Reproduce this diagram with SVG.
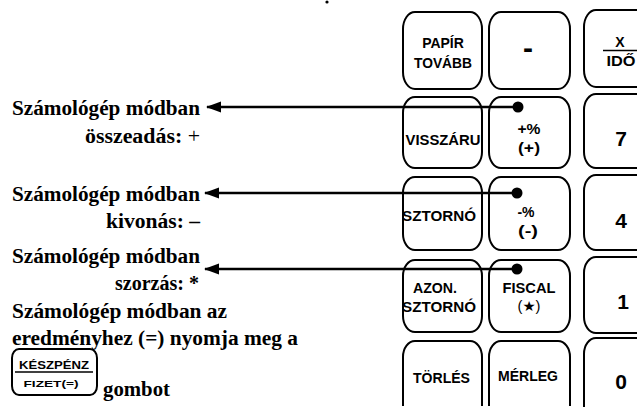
<svg xmlns="http://www.w3.org/2000/svg" width="637" height="410" viewBox="0 0 637 410">
<style>
.key{fill:#fff;stroke:#000;stroke-width:2}
.kt{font-family:"Liberation Sans",Arial,"DejaVu Sans",sans-serif;font-weight:bold;font-size:14px;text-anchor:middle;fill:#000}
.num{font-size:21px}
.lt{font-family:"Liberation Serif","Times New Roman",serif;font-weight:bold;font-size:20px;fill:#000}
.conn{stroke:#000;stroke-width:2.5;fill:none}
</style>
<defs>
<marker id="ah" markerUnits="userSpaceOnUse" markerWidth="16" markerHeight="12" refX="1" refY="6" orient="auto">
<path d="M0,6 L15,0.5 L15,11.5 Z" fill="#000"/>
</marker>
</defs>
<rect width="637" height="410" fill="#fff"/>
<circle cx="327" cy="2" r="1.6" fill="#000"/>

<!-- left texts -->
<g id="labels">
<text class="lt" x="12" y="115" textLength="188" lengthAdjust="spacingAndGlyphs">Számológép módban</text>
<text class="lt" x="85" y="143" textLength="115" lengthAdjust="spacingAndGlyphs">összeadás: <tspan font-weight="normal">+</tspan></text>
<text class="lt" x="12" y="201" textLength="188" lengthAdjust="spacingAndGlyphs">Számológép módban</text>
<text class="lt" x="106" y="228" textLength="94" lengthAdjust="spacingAndGlyphs">kivonás: –</text>
<text class="lt" x="12" y="263" textLength="188" lengthAdjust="spacingAndGlyphs">Számológép módban</text>
<text class="lt" x="115" y="290" textLength="84" lengthAdjust="spacingAndGlyphs">szorzás: *</text>
<text class="lt" x="12" y="318" textLength="215" lengthAdjust="spacingAndGlyphs">Számológép módban az</text>
<text class="lt" x="12" y="345" textLength="286" lengthAdjust="spacingAndGlyphs">eredményhez (=) nyomja meg a</text>
<text class="lt" x="103" y="396" textLength="67" lengthAdjust="spacingAndGlyphs">gombot</text>
</g>
<g id="key-keszpenz">
<rect class="key" x="12" y="349" width="85" height="46" rx="7" ry="9"/>
<text class="kt" x="54" y="369" style="font-size:10px" textLength="70" lengthAdjust="spacingAndGlyphs">KÉSZPÉNZ</text>
<line x1="15" y1="372" x2="93" y2="372" stroke="#000" stroke-width="1.5"/>
<text class="kt" x="51" y="387" style="font-size:9.5px" textLength="55" lengthAdjust="spacingAndGlyphs">FIZET(=)</text>
</g>

<!-- keypad: row 1 -->
<g id="key-papir">
<rect class="key" x="403" y="12" width="79" height="77" rx="12" ry="17"/>
<text class="kt" x="443" y="48">PAPÍR</text>
<text class="kt" x="443" y="68" textLength="58" lengthAdjust="spacingAndGlyphs">TOVÁBB</text>
</g>
<g id="key-minus">
<rect class="key" x="489" y="12" width="81" height="77" rx="12" ry="17"/>
<text class="kt" x="528" y="58" style="font-size:30px">-</text>
</g>
<g id="key-x-ido">
<rect class="key" x="584" y="10" width="80" height="77" rx="12" ry="17"/>
<text class="kt" x="620" y="47">X</text>
<line x1="603" y1="50.5" x2="637" y2="50.5" stroke="#000" stroke-width="1.5"/>
<text class="kt" x="621" y="66" textLength="29" lengthAdjust="spacingAndGlyphs">IDŐ</text>
</g>

<!-- row 2 -->
<g id="key-visszaru">
<rect class="key" x="403" y="97" width="79" height="71" rx="12" ry="16"/>
<text class="kt" x="443" y="145" textLength="75" lengthAdjust="spacingAndGlyphs">VISSZÁRU</text>
</g>
<g id="key-plus-percent">
<rect class="key" x="489" y="97" width="81" height="71" rx="12" ry="16"/>
<text class="kt" x="529" y="134" style="font-size:14px" textLength="23" lengthAdjust="spacingAndGlyphs">+%</text>
<text class="kt" x="529" y="153" style="font-size:14px" textLength="22" lengthAdjust="spacingAndGlyphs">(+)</text>
</g>
<g id="key-7">
<rect class="key" x="584" y="94" width="80" height="74" rx="12" ry="16"/>
<text class="kt num" x="621" y="146">7</text>
</g>

<!-- row 3 -->
<g id="key-sztorno">
<rect class="key" x="403" y="177" width="79" height="73" rx="12" ry="16"/>
<text class="kt" x="439" y="221" textLength="74" lengthAdjust="spacingAndGlyphs">SZTORNÓ</text>
</g>
<g id="key-minus-percent">
<rect class="key" x="489" y="177" width="81" height="73" rx="12" ry="16"/>
<text class="kt" x="526" y="217" style="font-size:14px">-%</text>
<text class="kt" x="528" y="236" style="font-size:14px" textLength="20" lengthAdjust="spacingAndGlyphs">(-)</text>
</g>
<g id="key-4">
<rect class="key" x="584" y="175" width="80" height="75" rx="12" ry="16"/>
<text class="kt num" x="621" y="228">4</text>
</g>

<!-- row 4 -->
<g id="key-azon-sztorno">
<rect class="key" x="403" y="260" width="79" height="72" rx="12" ry="16"/>
<text class="kt" x="435" y="293" textLength="44" lengthAdjust="spacingAndGlyphs">AZON.</text>
<text class="kt" x="439" y="312" textLength="74" lengthAdjust="spacingAndGlyphs">SZTORNÓ</text>
</g>
<g id="key-fiscal">
<rect class="key" x="489" y="260" width="81" height="72" rx="12" ry="16"/>
<text class="kt" x="529" y="293" textLength="53" lengthAdjust="spacingAndGlyphs">FISCAL</text>
<text class="kt" x="529" y="311" style="font-weight:normal" textLength="23" lengthAdjust="spacingAndGlyphs">(★)</text>
</g>
<g id="key-1">
<rect class="key" x="584" y="257" width="80" height="76" rx="12" ry="16"/>
<text class="kt num" x="623" y="309">1</text>
</g>

<!-- row 5 (cut at bottom) -->
<g id="key-torles">
<path class="key" d="M403,406 V357 A12,16 0 0 1 415,341 H470 A12,16 0 0 1 482,357 V406"/>
<text class="kt" x="441.5" y="383" textLength="57" lengthAdjust="spacingAndGlyphs">TÖRLÉS</text>
</g>
<g id="key-merleg">
<path class="key" d="M489,406 V357 A12,16 0 0 1 501,341 H558 A12,16 0 0 1 570,357 V406"/>
<text class="kt" x="528" y="381" textLength="60" lengthAdjust="spacingAndGlyphs">MÉRLEG</text>
</g>
<g id="key-0">
<path class="key" d="M584,407 V354 A12,16 0 0 1 596,338 H640"/>
<text class="kt num" x="621" y="389">0</text>
</g>

<!-- connectors -->
<g id="connectors">
<line class="conn" x1="207" y1="107" x2="518" y2="107" marker-start="url(#ah)"/>
<line class="conn" x1="205" y1="193" x2="517" y2="193" marker-start="url(#ah)"/>
<line class="conn" x1="205" y1="269" x2="517" y2="269" marker-start="url(#ah)"/>
<circle cx="518" cy="107" r="5.5" fill="#000"/>
<circle cx="517" cy="193" r="5.5" fill="#000"/>
<circle cx="517" cy="269" r="5.5" fill="#000"/>
</g>
</svg>
